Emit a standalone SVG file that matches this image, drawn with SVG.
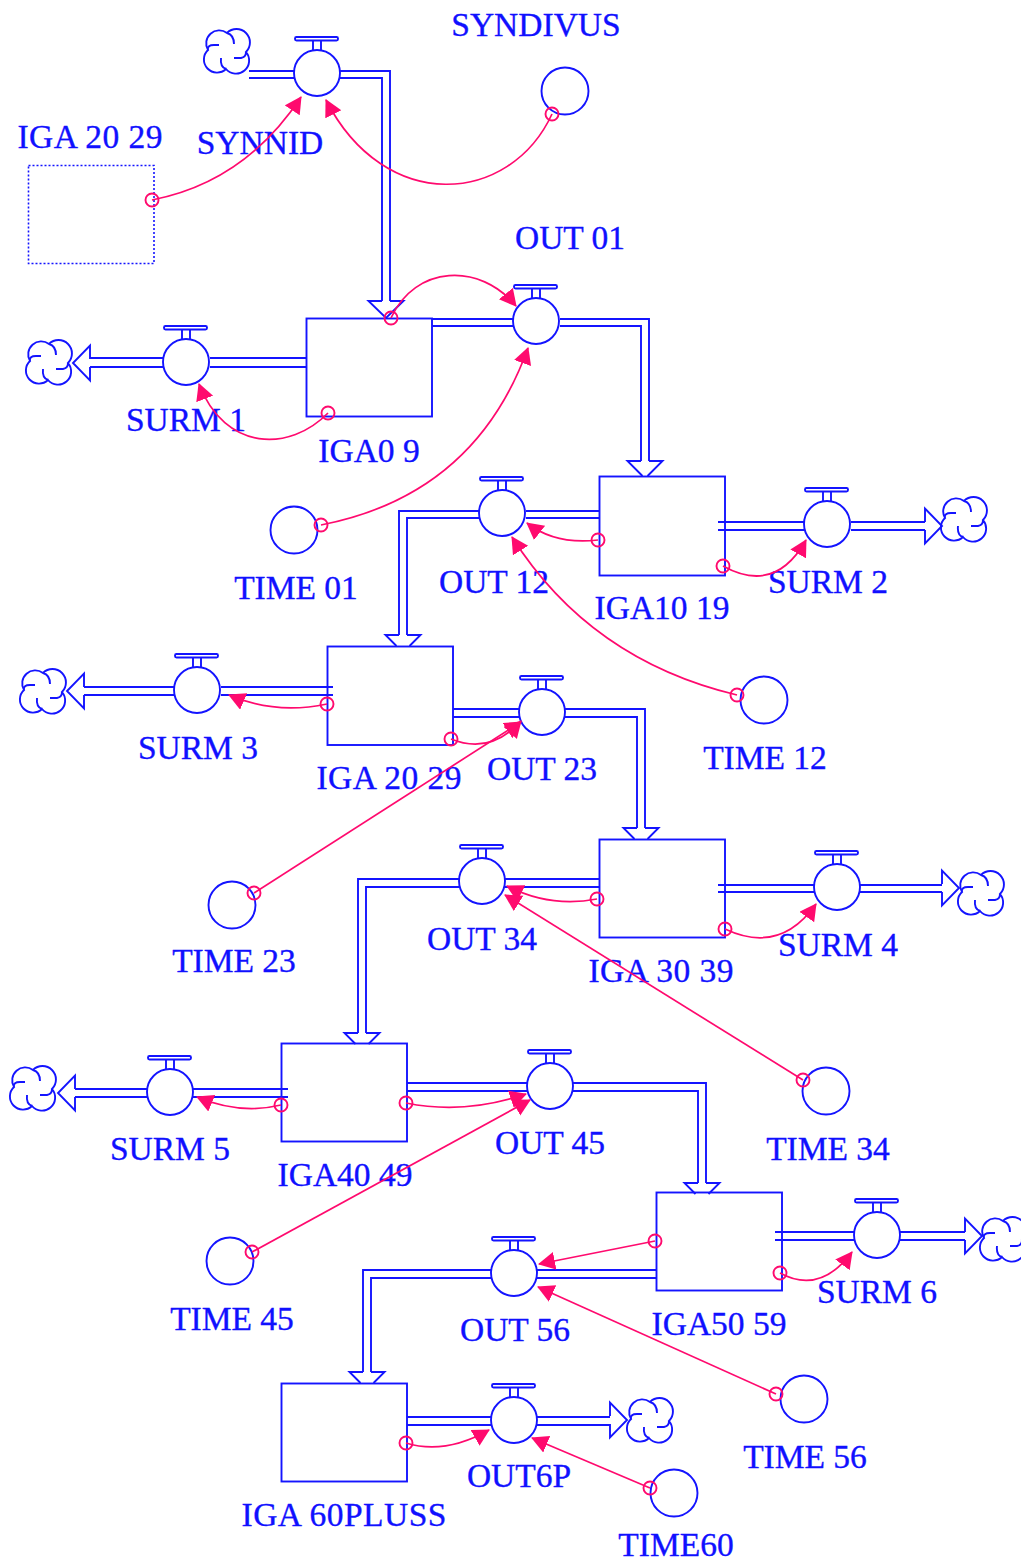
<svg xmlns="http://www.w3.org/2000/svg" xmlns:xlink="http://www.w3.org/1999/xlink" width="1021" height="1564" viewBox="0 0 1021 1564">
<style>
.p{fill:none;stroke:#1414ff;stroke-width:1.9}
.d{fill:none;stroke:#1414ff;stroke-width:1.6;stroke-dasharray:2 2}
.l{fill:none;stroke:#ff0a6e;stroke-width:1.7;marker-start:url(#o);marker-end:url(#a)}
text{font-family:"Liberation Serif","Times New Roman",serif;font-size:33.500px;fill:#1010ff;stroke:#1010ff;stroke-width:.35;text-anchor:middle}
</style>
<defs>
<marker id="a" markerUnits="userSpaceOnUse" markerWidth="20" markerHeight="20" refX="16" refY="9" orient="auto"><path d="M0,0 L17,9 L0,18 Z" fill="#ff0a6e"/></marker>
<marker id="o" markerUnits="userSpaceOnUse" markerWidth="18" markerHeight="18" refX="9" refY="9"><circle cx="9" cy="9" r="6.500" fill="none" stroke="#ff0a6e" stroke-width="1.900"/></marker>
<g id="v" class="p"><circle r="23" fill="#fff"/><path d="M-4,-23 V-33 M4,-23 V-33"/><rect x="-22" y="-36" width="43" height="3.500" rx="1.500"/></g>
<g id="c" class="p"><path d="M0,-18 A13,13 0 0 0 -19,-1 A13,13 0 0 0 -1,18 A13,13 0 0 0 19,1 A13,13 0 0 0 0,-18 Z M-19,-1 Q-20,-6 -13,-6 H-8 M0,-18 Q7,-16 7,-7 M19,1 Q19,6 14,7 H7 M-1,18 Q-7,16 -6,7"/></g>
<path id="h" class="p" d="M-4,0 H-17.500 L0,17 L17.500,0 H4"/>
<path id="h15" class="p" d="M-4,0 H-17.500 L-2.500,15 M2.500,15 L17.500,0 H4"/>
<path id="h11" class="p" d="M-4,0 H-17.500 L-6.500,11 M6.500,11 L17.500,0 H4"/>
</defs>

<g id="connectors">
<g id="flows" class="p">
<path d="M249,71 H295 M249,78 H295 M340,71 H390 V301 M340,78 H382 V301"/>
<use href="#h" x="386" y="301"/>
<path d="M432,319 H514 M432,326 H514 M560,319 H649 V461 M560,326 H641 V461"/>
<use href="#h15" x="645" y="461"/>
<path d="M210,358 H306 M210,367 H306 M163,358 H90 M163,367 H90"/>
<use href="#h" transform="translate(90,363) rotate(90)"/>
<path d="M526,511 H600 M526,518 H600 M479,511 H399 V635 M479,518 H407 V635"/>
<use href="#h11" x="403" y="635"/>
<path d="M718,522 H804 M718,530 H804 M851,522 H925 M851,530 H925"/>
<use href="#h" transform="translate(925,526) rotate(-90)"/>
<path d="M221,687 H333 M221,695 H333 M174,687 H84 M174,695 H84"/>
<use href="#h" transform="translate(84,691) rotate(90)"/>
<path d="M453,709 H519 M453,717 H519 M565,709 H645 V828 M565,717 H637 V828"/>
<use href="#h11" x="641" y="828"/>
<path d="M505,879 H600 M505,887 H600 M459,879 H358 V1033 M459,887 H366 V1033"/>
<use href="#h11" x="362" y="1033"/>
<path d="M718,885 H814 M718,892 H814 M860,885 H942 M860,892 H942"/>
<use href="#h" transform="translate(942,888) rotate(-90)"/>
<path d="M192,1089 H288 M192,1097 H288 M147,1089 H75 M147,1097 H75"/>
<use href="#h" transform="translate(75,1093) rotate(90)"/>
<path d="M407,1083 H527 M407,1091 H527 M573,1083 H706 V1183 M573,1091 H698 V1183"/>
<use href="#h11" x="702" y="1183"/>
<path d="M775,1232 H854 M775,1240 H854 M900,1232 H965 M900,1240 H965"/>
<use href="#h" transform="translate(965,1236) rotate(-90)"/>
<path d="M537,1270 H657 M537,1278 H657 M491,1270 H363 V1372 M491,1278 H371 V1372"/>
<use href="#h11" x="367" y="1372"/>
<path d="M407,1417 H491 M407,1425 H491 M537,1417 H610 M537,1425 H610"/>
<use href="#h" transform="translate(610,1420) rotate(-90)"/>
</g>
</g>

<g id="node-IGA-20-29-ghost"><rect class="d" x="28.500" y="165.500" width="125.500" height="98"/><text x="90" y="148" textLength="145">IGA 20 29</text></g>
<g id="node-SYNDIVUS"><circle class="p" cx="565" cy="91" r="23.500"/><text x="536" y="36">SYNDIVUS</text></g>
<g id="node-SYNNID"><use href="#c" x="227" y="51"/><use href="#v" x="317" y="73"/><text x="260" y="154">SYNNID</text></g>
<g id="node-IGA0-9"><rect class="p" x="306.500" y="318.500" width="125.500" height="98"/><text x="369" y="462">IGA0 9</text></g>
<g id="node-OUT-01"><use href="#v" x="536" y="321"/><text x="570" y="249">OUT 01</text></g>
<g id="node-SURM-1"><use href="#c" x="49" y="362"/><use href="#v" x="186" y="362"/><text x="186" y="431">SURM 1</text></g>
<g id="node-TIME-01"><circle class="p" cx="294" cy="530" r="23.500"/><text x="296" y="599">TIME 01</text></g>
<g id="node-IGA10-19"><rect class="p" x="599.500" y="476.500" width="125.500" height="99"/><text x="662" y="619">IGA10 19</text></g>
<g id="node-OUT-12"><use href="#v" x="502" y="513"/><text x="494" y="593">OUT 12</text></g>
<g id="node-SURM-2"><use href="#v" x="827" y="524"/><use href="#c" x="964" y="519"/><text x="828" y="593">SURM 2</text></g>
<g id="node-TIME-12"><circle class="p" cx="764" cy="700" r="23.500"/><text x="765" y="769">TIME 12</text></g>
<g id="node-IGA-20-29"><rect class="p" x="327.500" y="646.500" width="125.500" height="98.500"/><text x="389" y="789" textLength="145">IGA 20 29</text></g>
<g id="node-SURM-3"><use href="#c" x="43" y="691"/><use href="#v" x="197" y="690"/><text x="198" y="759">SURM 3</text></g>
<g id="node-OUT-23"><use href="#v" x="542" y="712"/><text x="542" y="780">OUT 23</text></g>
<g id="node-TIME-23"><circle class="p" cx="232" cy="905" r="23.500"/><text x="234" y="972">TIME 23</text></g>
<g id="node-IGA-30-39"><rect class="p" x="599.500" y="839.500" width="125.500" height="98"/><text x="661" y="982" textLength="145">IGA 30 39</text></g>
<g id="node-OUT-34"><use href="#v" x="482" y="881"/><text x="482" y="950">OUT 34</text></g>
<g id="node-SURM-4"><use href="#v" x="837" y="887"/><use href="#c" x="981" y="893"/><text x="838" y="956">SURM 4</text></g>
<g id="node-TIME-34"><circle class="p" cx="826" cy="1091" r="23.500"/><text x="828" y="1160">TIME 34</text></g>
<g id="node-IGA40-49"><rect class="p" x="281.500" y="1043.500" width="125.500" height="98"/><text x="345" y="1186">IGA40 49</text></g>
<g id="node-SURM-5"><use href="#c" x="33" y="1088"/><use href="#v" x="170" y="1092"/><text x="170" y="1160">SURM 5</text></g>
<g id="node-OUT-45"><use href="#v" x="550" y="1086"/><text x="550" y="1154">OUT 45</text></g>
<g id="node-TIME-45"><circle class="p" cx="230" cy="1261" r="23.500"/><text x="232" y="1330">TIME 45</text></g>
<g id="node-IGA50-59"><rect class="p" x="656.500" y="1192.500" width="125.500" height="98"/><text x="719" y="1335">IGA50 59</text></g>
<g id="node-SURM-6"><use href="#v" x="877" y="1235"/><use href="#c" x="1003" y="1239"/><text x="877" y="1303">SURM 6</text></g>
<g id="node-OUT-56"><use href="#v" x="514" y="1273"/><text x="515" y="1341">OUT 56</text></g>
<g id="node-TIME-56"><circle class="p" cx="804" cy="1399" r="23.500"/><text x="805" y="1468">TIME 56</text></g>
<g id="node-IGA-60PLUSS"><rect class="p" x="281.500" y="1383.500" width="125.500" height="98"/><text x="344" y="1526" textLength="205">IGA 60PLUSS</text></g>
<g id="node-OUT6P"><use href="#v" x="514" y="1420"/><use href="#c" x="650" y="1420"/><text x="519" y="1487">OUT6P</text></g>
<g id="node-TIME60"><circle class="p" cx="674" cy="1493" r="23.500"/><text x="676" y="1556">TIME60</text></g>

<g id="links">
<path class="l" d="M152,200 Q245,182 301,97"/>
<path class="l" d="M552,114 C510,205 385,215 326,100"/>
<path class="l" d="M391,318 C415,265 480,262 516,306"/>
<path class="l" d="M328,413 C290,452 225,452 199,384"/>
<path class="l" d="M321,525 Q475,495 528,348"/>
<path class="l" d="M598,540 Q555,545 527,523"/>
<path class="l" d="M723,566 Q775,595 806,540"/>
<path class="l" d="M737,695 Q590,660 512,537"/>
<path class="l" d="M327,704 Q275,715 229,695"/>
<path class="l" d="M451,739 Q490,755 521,721"/>
<path class="l" d="M254,893 L521,722"/>
<path class="l" d="M597,899 Q550,908 507,886"/>
<path class="l" d="M725,929 Q780,955 816,904"/>
<path class="l" d="M803,1080 L505,895"/>
<path class="l" d="M281,1105 Q240,1115 197,1097"/>
<path class="l" d="M406,1103 Q465,1115 526,1094"/>
<path class="l" d="M252,1252 L530,1100"/>
<path class="l" d="M655,1241 L539,1264"/>
<path class="l" d="M780,1273 Q820,1295 852,1252"/>
<path class="l" d="M776,1394 L538,1287"/>
<path class="l" d="M406,1443 Q445,1455 489,1430"/>
<path class="l" d="M650,1488 L532,1438"/>
</g>
</svg>
